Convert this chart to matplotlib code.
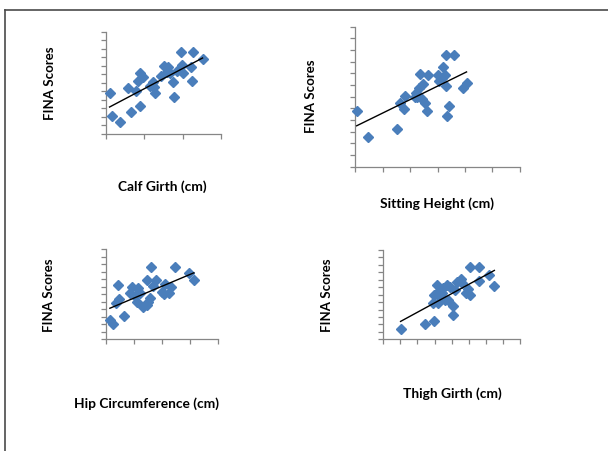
import numpy as np
import matplotlib
matplotlib.use('Agg')
import matplotlib.pyplot as plt
from matplotlib.lines import Line2D

# Values. The original has no tick labels, so both axes
# are in tick units (x: major tick count, y: 0-12 minor steps).
calf_x = [0.10, 0.16, 0.37, 0.57, 0.65, 0.79, 0.84, 0.89, 0.89, 0.98, 1.15, 1.22, 1.26, 1.29, 1.43,
          1.52, 1.59, 1.63, 1.67, 1.74, 1.78, 1.85, 1.95, 1.98, 2.02, 2.23, 2.24, 2.26, 2.52]
calf_y = [4.84, 2.11, 1.41, 5.43, 2.58, 5.04, 6.21, 7.10, 3.28, 6.70, 5.60, 6.13, 5.47, 4.77, 6.80,
          7.97, 7.30, 7.90, 7.10, 6.05, 4.38, 7.42, 9.60, 8.09, 7.19, 7.90, 6.17, 9.60, 8.75]

sitting_x = [0.05, 0.47, 1.51, 1.63, 1.79, 1.81, 2.18, 2.21, 2.27, 2.34, 2.36, 2.42, 2.48, 2.53,
             2.63, 2.66, 3.03, 3.06, 3.15, 3.21, 3.27, 3.30, 3.31, 3.33, 3.43, 3.61, 3.92, 4.06]
sitting_y = [4.77, 2.51, 3.23, 5.43, 4.91, 6.06, 6.00, 6.34, 5.94, 6.71, 7.94, 5.77, 7.09, 5.43,
             4.77, 7.86, 7.86, 7.37, 7.57, 8.57, 7.86, 6.91, 9.57, 4.34, 5.20, 9.57, 6.71, 7.20]

hip_x = [0.15, 0.25, 0.37, 0.45, 0.49, 0.65, 0.87, 0.95, 1.05, 1.11, 1.17, 1.23, 1.32, 1.46,
         1.49, 1.52, 1.58, 1.62, 1.70, 1.80, 2.00, 2.08, 2.12, 2.27, 2.32, 2.48, 2.99, 3.15]
hip_y = [2.54, 2.00, 4.87, 7.23, 5.31, 3.08, 6.12, 7.00, 5.76, 5.00, 6.79, 6.12, 4.33, 4.55,
         7.90, 5.00, 5.45, 9.69, 7.10, 7.90, 6.34, 6.03, 7.37, 6.12, 6.92, 9.60, 8.79, 7.90]

thigh_x = [1.01, 2.44, 2.99, 2.89, 2.97, 3.12, 3.18, 3.22, 3.32, 3.41, 3.51, 3.61, 3.75, 3.80, 3.90,
           4.06, 4.10, 4.20, 4.29, 4.53, 4.59, 4.84, 4.98, 5.07, 5.07, 5.60, 5.60, 6.19, 6.50]
thigh_y = [1.39, 2.06, 2.51, 4.84, 5.96, 7.31, 4.84, 6.41, 5.74, 6.19, 6.86, 5.29, 7.31, 5.29, 7.08,
           4.48, 3.27, 6.64, 7.76, 8.07, 7.53, 6.19, 6.73, 9.69, 5.96, 9.69, 7.89, 8.65, 7.22]

x_labels = ['Calf Girth (cm)', 'Sitting Height (cm)', 'Hip Circumference (cm)', 'Thigh Girth (cm)']
y_label = 'FINA Scores'

W, H = 608, 451
fig = plt.figure(figsize=(W / 100, H / 100), dpi=100)
plt.rcParams['font.family'] = ['Lato', 'DejaVu Sans']

# layout in pixels: plot box (left, top, right, bottom), x intervals, ylabel pos, xlabel pos
panels = [
    (calf_x, calf_y, (105.7, 31.7, 221, 134), 3, (50, 83), (162.6, 187)),
    (sitting_x, sitting_y, (355.3, 26.7, 519.7, 166.7), 6, (310.7, 96.7), (436.7, 204)),
    (hip_x, hip_y, (105.7, 249.3, 217.7, 339), 4, (49, 295), (146, 404)),
    (thigh_x, thigh_y, (383.3, 250, 520, 339.3), 8, (326.7, 295), (452, 394)),
]

axis_grey = '#868686'
blue = '#4a7ebb'

for (xs, ys, box, nx, ylab_pos, xlab_pos), xlabel in zip(panels, x_labels):
    left, top, right, bottom = box
    ax = fig.add_axes([left / W, 1 - bottom / H, (right - left) / W, (bottom - top) / H])
    ax.set_xlim(0, nx)
    ax.set_ylim(0, 12)
    ax.set_xticks(range(nx + 1))
    ax.set_yticks(range(13))
    ax.set_xticklabels([])
    ax.set_yticklabels([])
    for s in ['top', 'right']:
        ax.spines[s].set_visible(False)
    for s in ['left', 'bottom']:
        ax.spines[s].set_color(axis_grey)
        ax.spines[s].set_linewidth(0.9)
    ax.tick_params(direction='out', length=3.5, width=0.9, color=axis_grey)
    ax.patch.set_alpha(0)

    ax.plot(xs, ys, 'D', color=blue, ms=5.2, mec=blue, clip_on=False, zorder=3)

    # linear trendline
    fit = np.polyfit(xs, ys, 1)
    xx = np.array([min(xs), max(xs)])
    ax.plot(xx, np.polyval(fit, xx), color='black', lw=1.0, zorder=4)

    fig.text(ylab_pos[0] / W, 1 - ylab_pos[1] / H, y_label, rotation=90,
             ha='center', va='center', fontsize=9.5, fontweight='bold')
    fig.text(xlab_pos[0] / W, 1 - xlab_pos[1] / H, xlabel,
             ha='center', va='center', fontsize=9.9, fontweight='bold')

# outer frame (top and left edges only are visible in the original)
fig.add_artist(Line2D([5 / W, 1], [1 - 9.5 / H, 1 - 9.5 / H], transform=fig.transFigure,
                      color='#4a4a4a', lw=1.2))
fig.add_artist(Line2D([5 / W, 5 / W], [1 - 9.5 / H, 0], transform=fig.transFigure,
                      color='#4a4a4a', lw=1.2))

fig.savefig('out.png', dpi=100)
